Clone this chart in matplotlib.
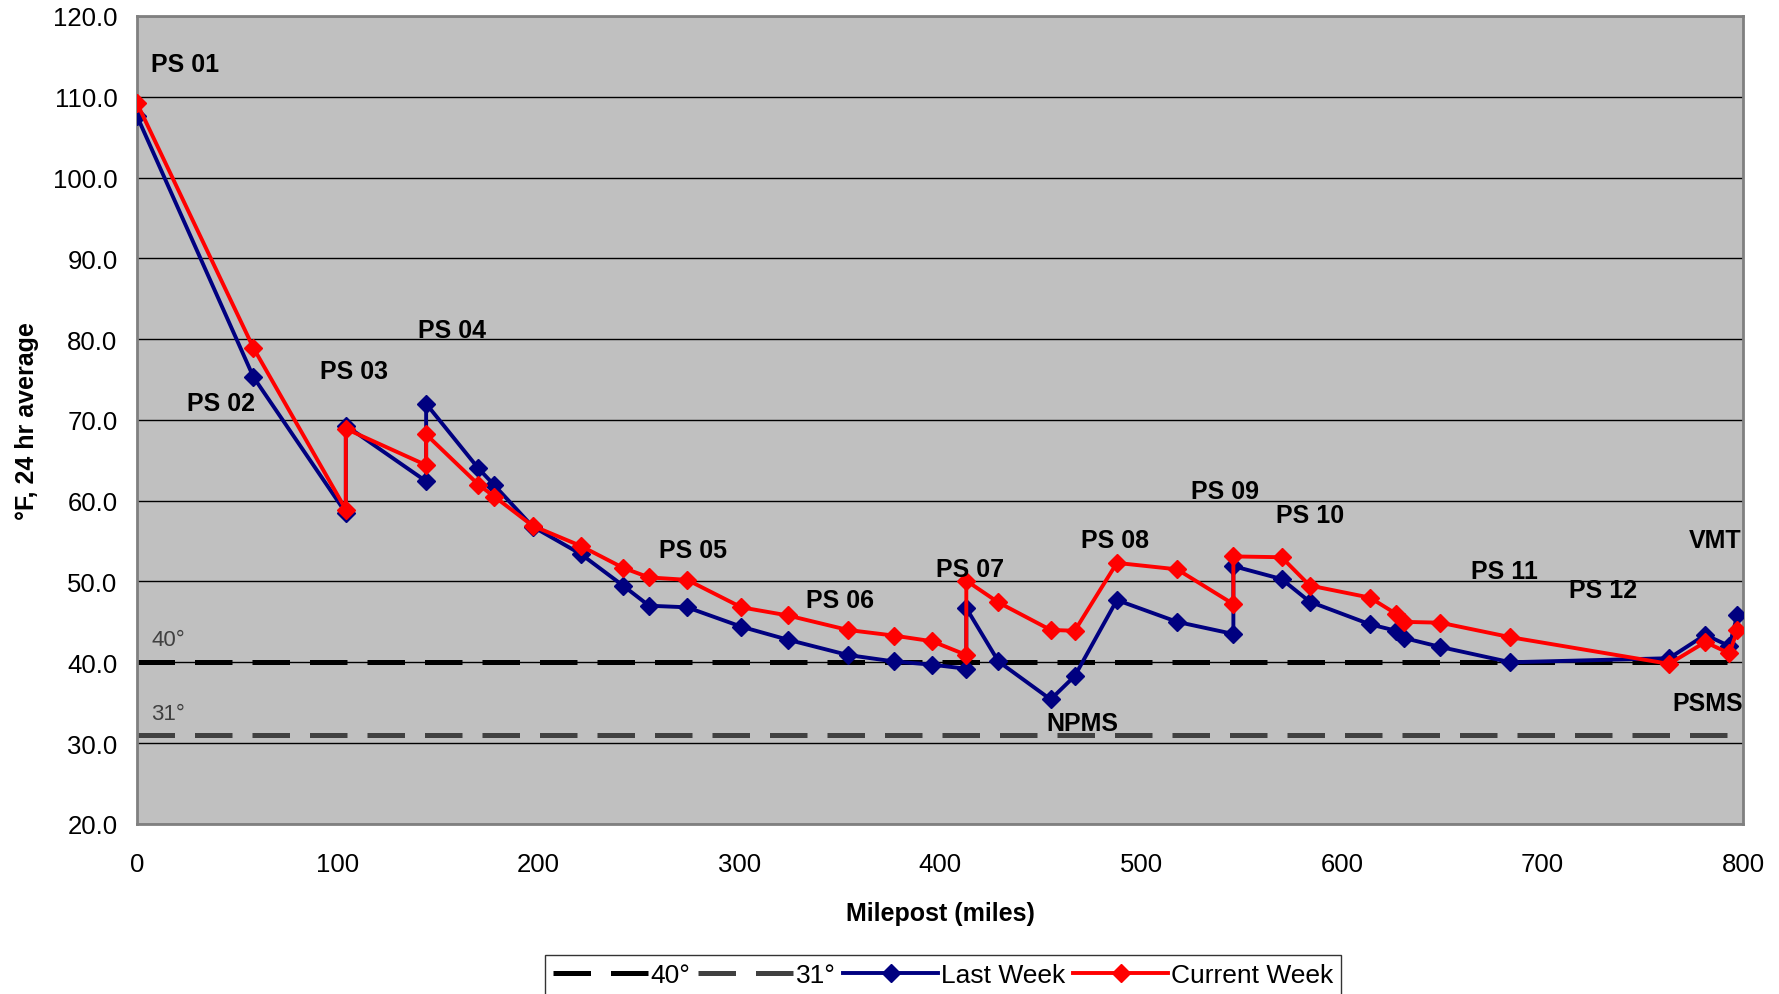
import numpy as np
import matplotlib.pyplot as plt

plt.rcParams['font.family'] = ['Liberation Sans', 'DejaVu Sans']

# milepost of each reading (same stations for both weeks)
milepost = [0, 58, 104, 104, 144, 144, 170, 178, 197, 221,
            242, 255, 274, 301, 324, 354, 377, 396, 413, 413,
            429, 455, 467, 488, 518, 546, 546, 570, 584, 614,
            627, 631, 649, 684, 763, 781, 793, 797]

last_week = [107.6, 75.3, 58.5, 69.3, 62.4, 72.0, 64.0, 61.9, 56.8, 53.4,
             49.5, 47.0, 46.8, 44.4, 42.8, 40.9, 40.1, 39.7, 39.2, 46.7,
             40.1, 35.4, 38.3, 47.7, 45.0, 43.5, 51.9, 50.3, 47.5, 44.7,
             43.9, 43.0, 41.9, 40.0, 40.5, 43.4, 42.0, 45.9]

current_week = [109.2, 78.9, 58.9, 68.9, 64.4, 68.2, 62.0, 60.5, 56.9, 54.4,
                51.7, 50.5, 50.2, 46.8, 45.8, 44.0, 43.3, 42.6, 40.9, 50.1,
                47.4, 44.0, 43.9, 52.3, 51.5, 47.2, 53.1, 53.0, 49.5, 48.0,
                46.0, 45.0, 44.9, 43.1, 39.8, 42.5, 41.1, 44.0]

# station labels: (text, milepost, temperature)
stations = [('PS 01', 24, 114.1), ('PS 02', 42, 72.1), ('PS 03', 108, 76.0),
            ('PS 04', 157, 81.1), ('PS 05', 277, 53.9), ('PS 06', 350, 47.7),
            ('PS 07', 415, 51.5), ('PS 08', 487, 55.1), ('PS 09', 542, 61.2),
            ('PS 10', 584, 58.2), ('PS 11', 681, 51.3), ('PS 12', 730, 48.9),
            ('VMT', 786, 55.1), ('PSMS', 782, 34.9), ('NPMS', 471, 32.5)]

limit_hi = 40
limit_lo = 31

fig = plt.figure(figsize=(17.79, 9.95), dpi=100)
ax = fig.add_axes([0.077, 0.171, 0.903, 0.812])
ax.set_facecolor('#C0C0C0')

ax.axhline(limit_hi, color='black', lw=3.6, dashes=(7.5, 4), zorder=2, label='40°')
ax.axhline(limit_lo, color='#404040', lw=3.6, dashes=(7.5, 4), zorder=2, label='31°')

ax.plot(milepost, last_week, color='#000080', lw=2.8, marker='D', ms=9,
        zorder=3, label='Last Week')
ax.plot(milepost, current_week, color='#FF0000', lw=2.8, marker='D', ms=9,
        zorder=4, label='Current Week')

for name, x, y in stations:
    ax.text(x, y, name, fontsize=18, fontweight='bold', ha='center', va='center', zorder=5)

ax.text(7, 42.8, '40°', fontsize=16, color='#404040', ha='left', va='center')
ax.text(7, 33.6, '31°', fontsize=16, color='#404040', ha='left', va='center')

ax.set_xlim(0, 800)
ax.set_ylim(20, 120)
ax.set_xticks(np.arange(0, 801, 100))
ax.set_yticks(np.arange(20, 121, 10))
ax.set_yticklabels([f'{v:.1f}' for v in np.arange(20, 121, 10)])
ax.yaxis.grid(True, color='black', lw=1)
ax.set_axisbelow(True)
ax.tick_params(axis='both', length=0, labelsize=18.5)
ax.tick_params(axis='x', pad=20)
ax.tick_params(axis='y', pad=14)
for s in ax.spines.values():
    s.set_color('#808080')
    s.set_linewidth(2)

ax.set_xlabel('Milepost (miles)', fontsize=18, fontweight='bold')
ax.set_ylabel('°F, 24 hr average', fontsize=18, fontweight='bold')
ax.xaxis.set_label_coords(0.5, -0.095)
ax.yaxis.set_label_coords(-0.061, 0.5)

fig.legend(loc='upper center', bbox_to_anchor=(0.530, 0.039), ncol=4,
           frameon=True, fancybox=False, edgecolor='black', fontsize=19,
           handlelength=3.6, handletextpad=0.1, columnspacing=0.3,
           borderaxespad=0, borderpad=0.3)

fig.savefig('out.png', dpi=100)
